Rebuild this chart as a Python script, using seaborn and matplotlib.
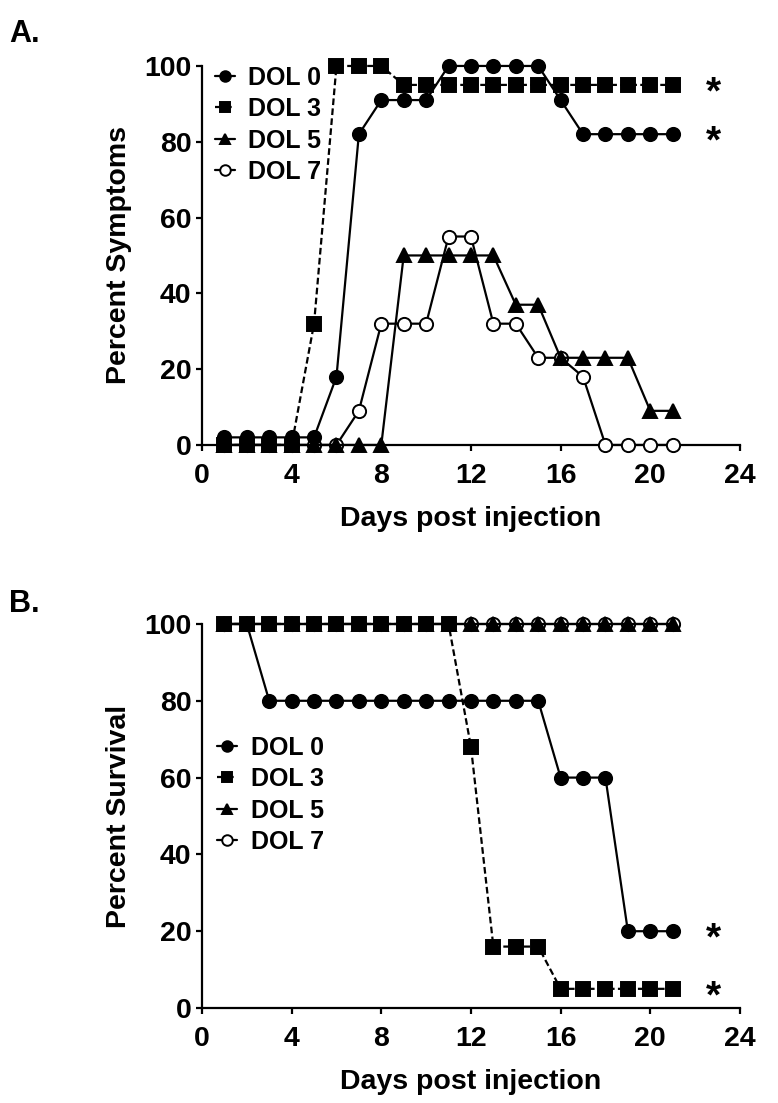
import matplotlib
matplotlib.use('Agg')
import matplotlib.pyplot as plt
import seaborn as sns

# ── Data ──────────────────────────────────────────────────────
days = list(range(1, 22))

sym_dol0 = [2, 2, 2, 2, 2, 18, 82, 91, 91, 91, 100, 100, 100, 100, 100, 91, 82, 82, 82, 82, 82]
sym_dol3 = [0, 0, 0, 0, 32, 100, 100, 100, 95, 95, 95, 95, 95, 95, 95, 95, 95, 95, 95, 95, 95]
sym_dol5 = [0, 0, 0, 0, 0, 0, 0, 0, 50, 50, 50, 50, 50, 37, 37, 23, 23, 23, 23, 9, 9]
sym_dol7 = [0, 0, 0, 0, 0, 0, 9, 32, 32, 32, 55, 55, 32, 32, 23, 23, 18, 0, 0, 0, 0]

surv_dol0 = [100, 100, 80, 80, 80, 80, 80, 80, 80, 80, 80, 80, 80, 80, 80, 60, 60, 60, 20, 20, 20]
surv_dol3 = [100, 100, 100, 100, 100, 100, 100, 100, 100, 100, 100, 68, 16, 16, 16, 5, 5, 5, 5, 5, 5]
surv_dol5 = [100] * 21
surv_dol7 = [100] * 21

labels = ["DOL 0", "DOL 3", "DOL 5", "DOL 7"]
x_ticks = [0, 4, 8, 12, 16, 20, 24]
y_ticks = [0, 20, 40, 60, 80, 100]
starred_a = [sym_dol3, sym_dol0]
starred_b = [surv_dol0, surv_dol3]

# ── Style ─────────────────────────────────────────────────────
sns.set_style("ticks")
plt.rcParams['font.family'] = ['Liberation Sans', 'DejaVu Sans']
plt.rcParams['font.weight'] = 'bold'
plt.rcParams['axes.labelweight'] = 'bold'
for key in ['text.color', 'axes.labelcolor', 'xtick.color',
            'ytick.color', 'axes.edgecolor']:
    plt.rcParams[key] = 'black'
plt.rcParams['axes.linewidth'] = 1.6
plt.rcParams['xtick.major.width'] = 1.6
plt.rcParams['ytick.major.width'] = 1.6
plt.rcParams['xtick.major.size'] = 4.5
plt.rcParams['ytick.major.size'] = 4.5

styles = {
    "DOL 0": dict(marker='o', mfc='black', linestyle='-'),
    "DOL 3": dict(marker='s', mfc='black', linestyle=(0, (3, 1.5))),
    "DOL 5": dict(marker='^', mfc='black', linestyle='-'),
    "DOL 7": dict(marker='o', mfc='white', linestyle='-'),
}
# draw order so that filled markers sit on top where series overlap
draw_order = ["DOL 7", "DOL 5", "DOL 0", "DOL 3"]

fig = plt.figure(figsize=(7.78, 11.03), dpi=100)
ax_a = fig.add_axes([0.2596, 0.5966, 0.6915, 0.3436])
ax_b = fig.add_axes([0.2596, 0.0861, 0.6915, 0.3482])


def draw_panel(ax, series, ylabel, legend_anchor, starred):
    data = dict(zip(labels, series))
    for name in draw_order:
        st = styles[name]
        sns.lineplot(x=days, y=data[name], ax=ax, color='black', lw=1.6,
                     marker=st['marker'], markersize=9.5, mfc=st['mfc'],
                     mec='black', mew=1.4, linestyle=st['linestyle'],
                     clip_on=False, zorder=3, label=name)
    ax.set_xlim(0, 24)
    ax.set_ylim(0, 100)
    ax.set_xticks(x_ticks)
    ax.set_yticks(y_ticks)
    ax.tick_params(axis='x', labelsize=20.5, pad=8.5)
    ax.tick_params(axis='y', labelsize=20.5, pad=3)
    ax.set_xlabel("Days post injection", fontsize=20.5, labelpad=12)
    ax.set_ylabel(ylabel, fontsize=20.5, labelpad=9)
    for s in starred:
        ax.annotate("*", xy=(22.8, s[-1]), xytext=(0, -6),
                    textcoords='offset points', fontsize=28,
                    ha='center', va='center', fontweight='bold')
    sns.despine(ax=ax)
    handles, labs = ax.get_legend_handles_labels()
    order = [labs.index(l) for l in labels]
    ax.legend([handles[i] for i in order], labels, loc='upper left',
              bbox_to_anchor=legend_anchor, frameon=False, fontsize=18,
              handlelength=0.8, handletextpad=0.55, labelspacing=0.3,
              borderaxespad=0, markerscale=0.8)


draw_panel(ax_a, [sym_dol0, sym_dol3, sym_dol5, sym_dol7],
           "Percent Symptoms", (0.005, 1.027), starred_a)
draw_panel(ax_b, [surv_dol0, surv_dol3, surv_dol5, surv_dol7],
           "Percent Survival", (0.01, 0.735), starred_b)

fig.text(0.012, 0.969, "A.", fontsize=22, fontweight='bold', va='center')
fig.text(0.012, 0.452, "B.", fontsize=22, fontweight='bold', va='center')

fig.savefig("out.png", dpi=100, facecolor='white')
